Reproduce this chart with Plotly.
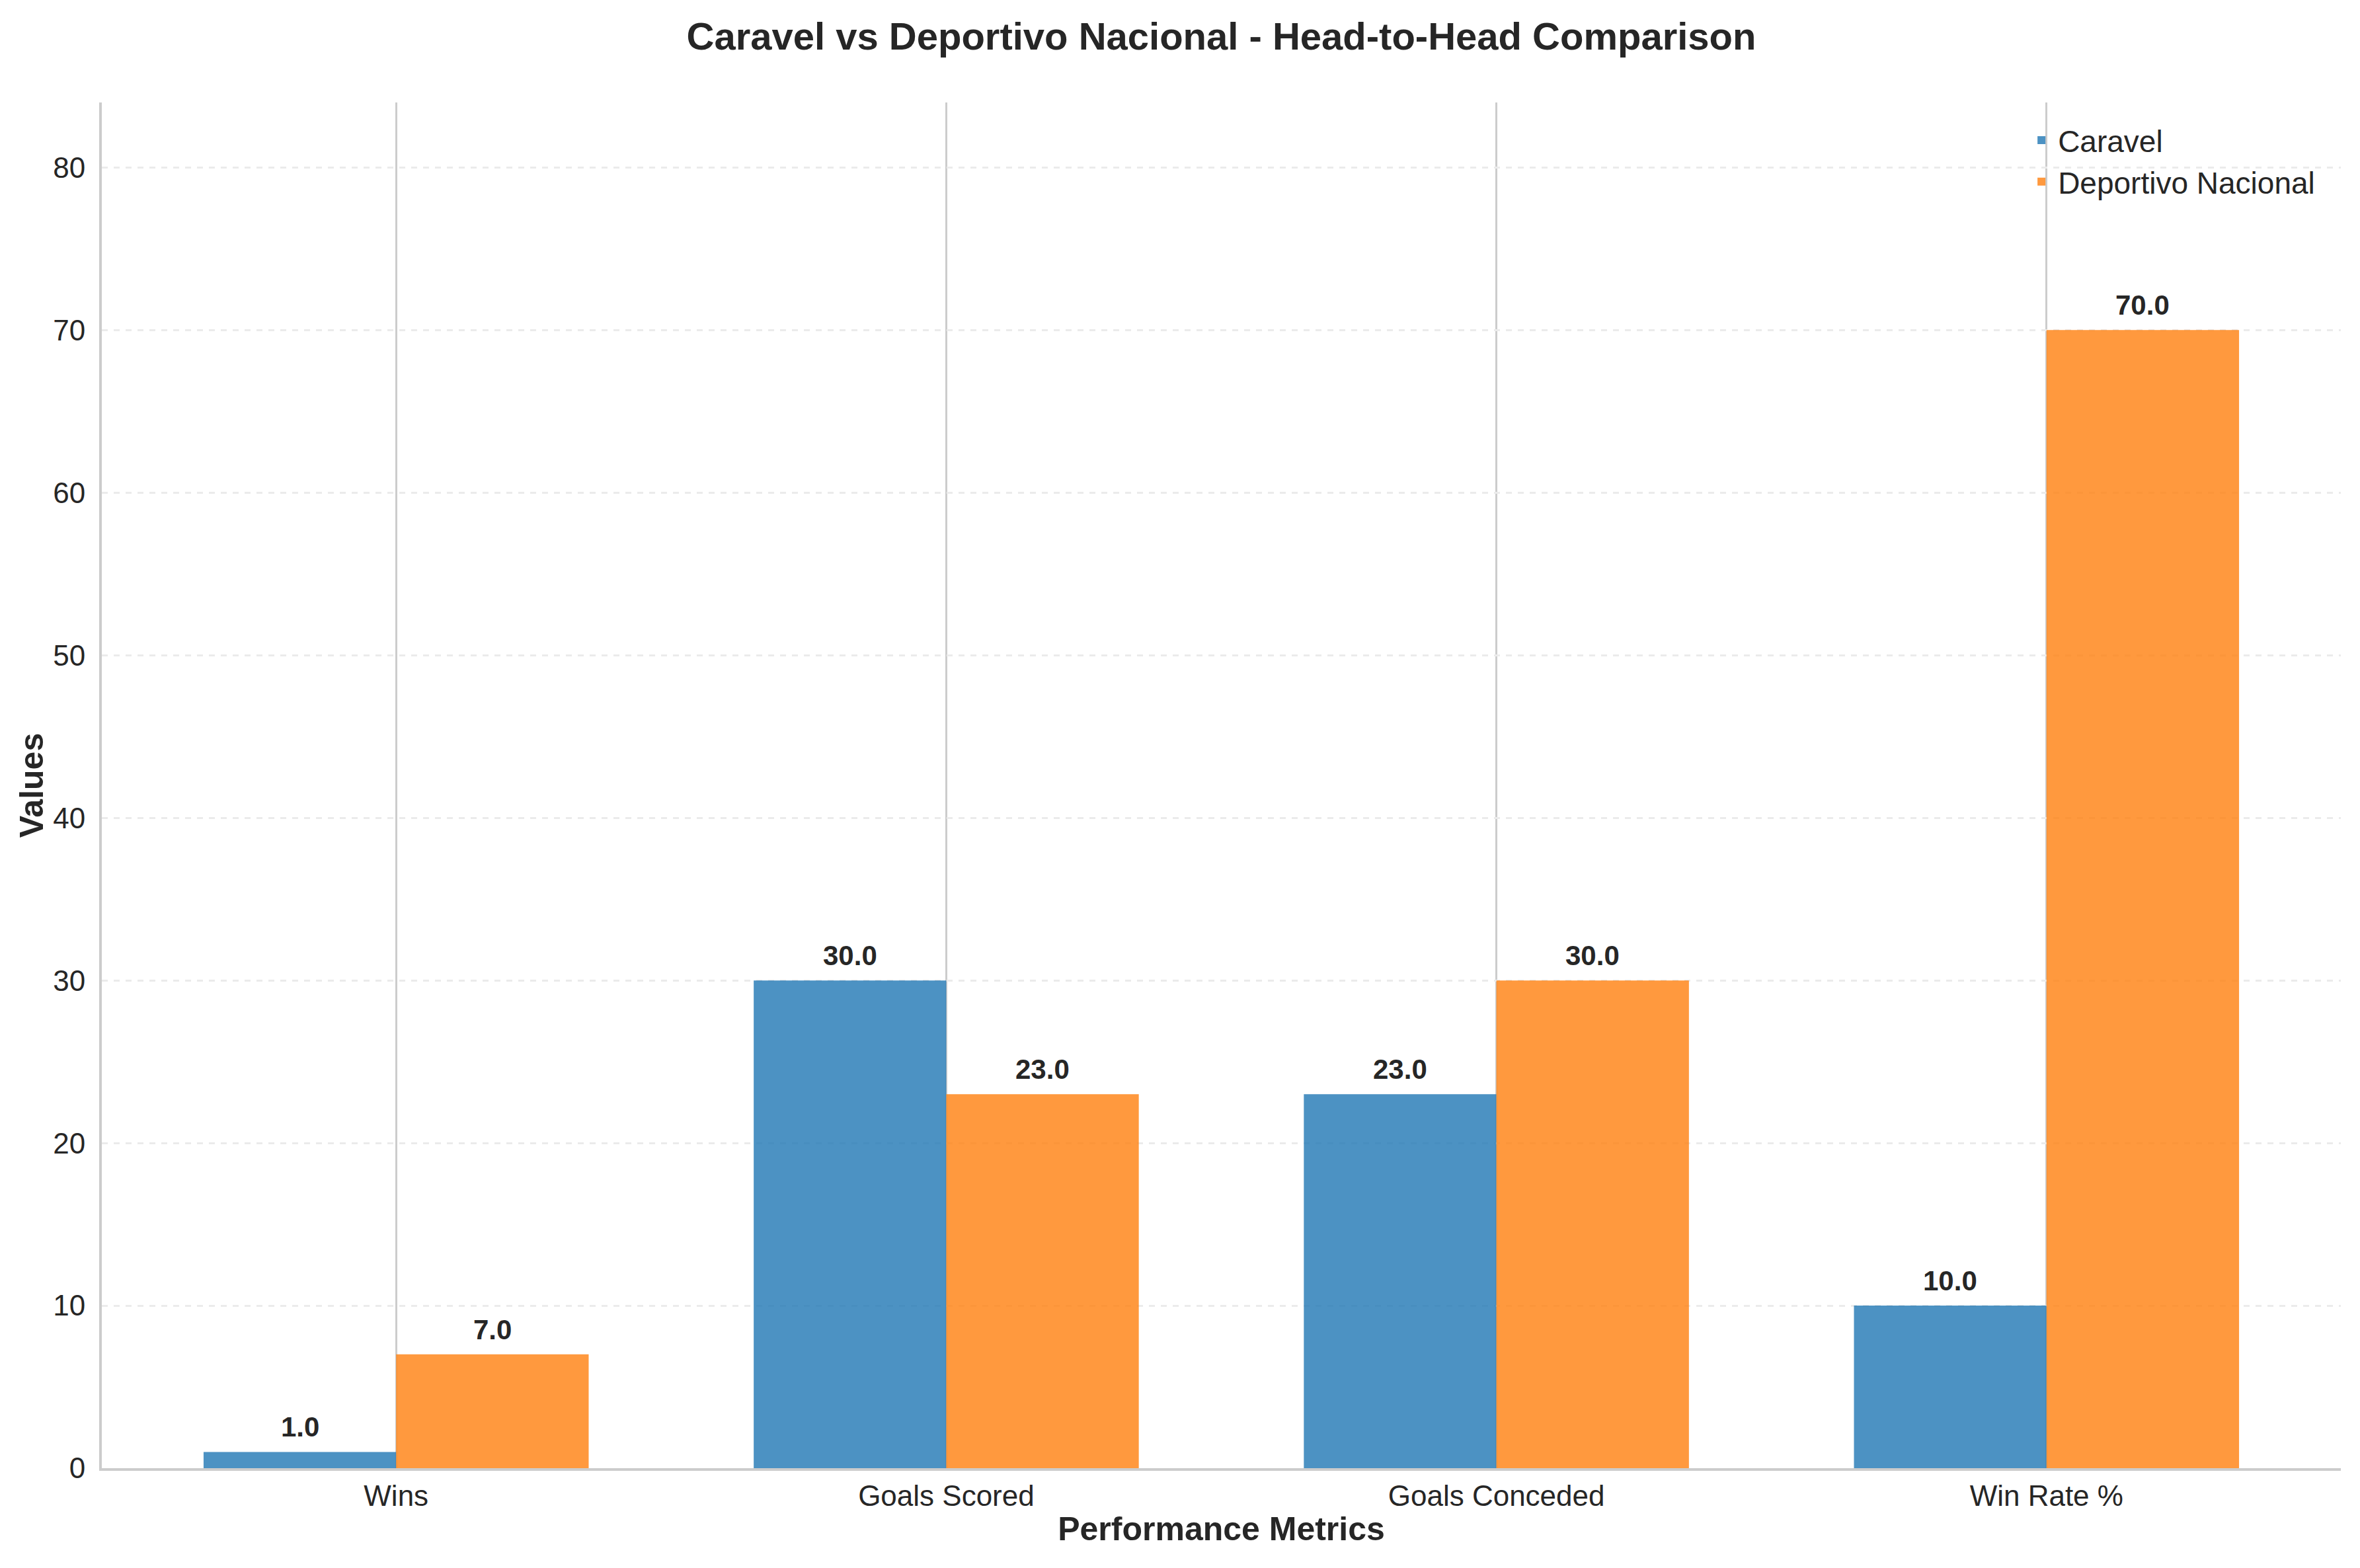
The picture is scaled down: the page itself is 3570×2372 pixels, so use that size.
import plotly.graph_objects as go

categories = ["Wins", "Goals Scored", "Goals Conceded", "Win Rate %"]
caravel = [1.0, 30.0, 23.0, 10.0]
nacional = [7.0, 23.0, 30.0, 70.0]
team_names = ["Caravel", "Deportivo Nacional"]
y_ticks = [0, 10, 20, 30, 40, 50, 60, 70, 80]

BLUE = "rgba(31,119,180,0.8)"
ORANGE = "rgba(255,127,14,0.8)"
FONT = "Arial, Liberation Sans, Helvetica, sans-serif"
TXT = "#262626"

fig = go.Figure()
for name, vals, col in [(team_names[0], caravel, BLUE), (team_names[1], nacional, ORANGE)]:
    fig.add_trace(go.Bar(
        x=categories, y=vals, name=name,
        marker=dict(color=col, line=dict(width=0)),
    ))

annotations = []
for offset, vals in [(-0.175, caravel), (0.175, nacional)]:
    for i, v in enumerate(vals):
        annotations.append(dict(
            x=i + offset, y=v, xref="x", yref="y",
            text=f"<b>{v:.1f}</b>", showarrow=False,
            yanchor="bottom", yshift=12,
            font=dict(family=FONT, size=42, color=TXT),
        ))

fig.update_layout(
    width=3570, height=2372,
    paper_bgcolor="white", plot_bgcolor="white",
    margin=dict(l=154, r=29, t=155, b=151, autoexpand=False),
    barmode="group", bargap=0.3, bargroupgap=0,
    font=dict(family=FONT, color=TXT),
    title=dict(
        text="<b>Caravel vs Deportivo Nacional - Head-to-Head Comparison</b>",
        x=0.5, xref="paper", xanchor="center",
        y=1 - 55 / 2372, yref="container", yanchor="middle",
        font=dict(family=FONT, size=58, color=TXT),
    ),
    legend=dict(
        x=0.99, y=0.99, xanchor="right", yanchor="top",
        bgcolor="rgba(0,0,0,0)",
        font=dict(family=FONT, size=46, color=TXT),
        itemwidth=40, tracegroupgap=0,
    ),
    annotations=annotations,
)

fig.update_xaxes(
    type="category", range=[-0.535, 3.535],
    showgrid=True, gridcolor="#cccccc", gridwidth=3,
    showline=True, linecolor="#cccccc", linewidth=4,
    ticks="", tickfont=dict(family=FONT, size=44, color=TXT),
    ticklabelstandoff=0,
    title=dict(text="<b>Performance Metrics</b>", font=dict(family=FONT, size=50, color=TXT), standoff=10),
    zeroline=False,
)
fig.update_yaxes(
    range=[0, 84], tickvals=y_ticks,
    showgrid=True, gridcolor="#ebebeb", gridwidth=3, griddash="dash",
    showline=True, linecolor="#cccccc", linewidth=4,
    ticks="", tickfont=dict(family=FONT, size=44, color=TXT),
    ticklabelstandoff=12,
    title=dict(text="<b>Values</b>", font=dict(family=FONT, size=50, color=TXT), standoff=0),
    zeroline=False,
)

fig.write_html("out.html")
